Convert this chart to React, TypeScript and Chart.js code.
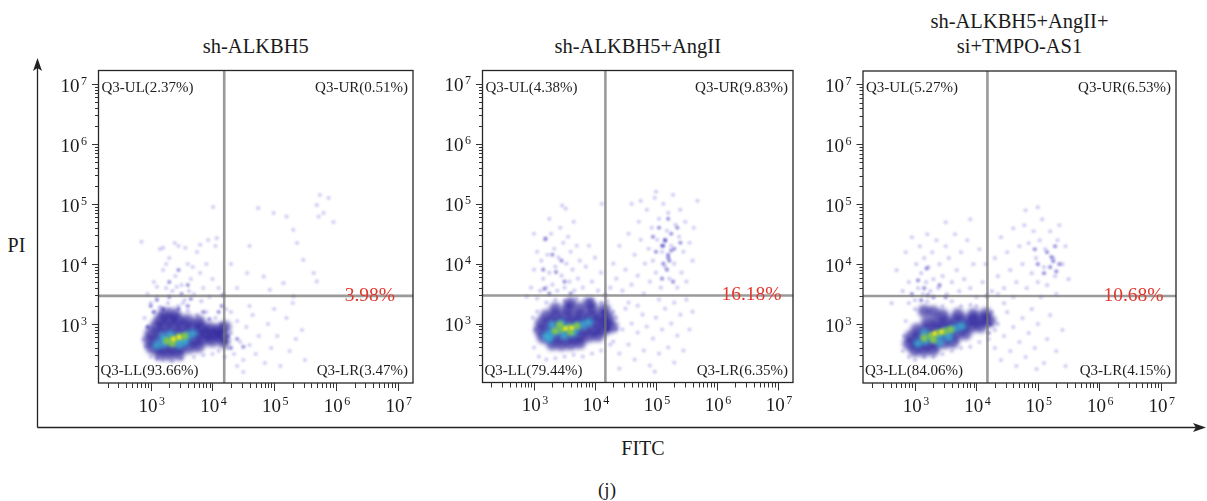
import React, { useEffect, useRef } from "react";
import { Chart, registerables } from "chart.js";

Chart.register(...registerables);

const SERIF = '"Liberation Serif", "Times New Roman", Times, serif';

// ---------- text ----------
const panelTitles = [["sh-ALKBH5"], ["sh-ALKBH5+AngII"], ["sh-ALKBH5+AngII+", "si+TMPO-AS1"]];
const labelUL = ["Q3-UL(2.37%)", "Q3-UL(4.38%)", "Q3-UL(5.27%)"];
const labelUR = ["Q3-UR(0.51%)", "Q3-UR(9.83%)", "Q3-UR(6.53%)"];
const labelLL = ["Q3-LL(93.66%)", "Q3-LL(79.44%)", "Q3-LL(84.06%)"];
const labelLR = ["Q3-LR(3.47%)", "Q3-LR(6.35%)", "Q3-LR(4.15%)"];
const apoptosisRate = ["3.98%", "16.18%", "10.68%"];
const xAxisTitle = "FITC";
const yAxisTitle = "PI";
const figureTag = "(j)";

// ---------- axes ----------
const tickExponents = [3, 4, 5, 6, 7];
const fitcRange = [142.6, 1.77e7];
const piRange = [104, 1.68e7];
const gateFITC = [15500, 14800, 15100];
const gatePI = [2950, 2950, 2950];

// ---------- events, as [log10 FITC, log10 PI] ----------
const p1Sparse = [
  [2.88, 2.75], [2.92, 2.62], [2.95, 2.95], [2.9, 3.1], [3.0, 2.45], [3.05, 3.2], [3.1, 2.42], [3.15, 3.28],
  [3.2, 2.4], [3.3, 3.25], [3.35, 2.38], [3.45, 3.3], [3.5, 2.42], [3.6, 3.22], [3.7, 2.45], [3.75, 3.15],
  [3.85, 2.48], [3.9, 3.2], [4.0, 2.5], [4.05, 3.1], [4.1, 2.55], [4.15, 3.0], [4.2, 2.45], [4.22, 3.25],
  [2.95, 3.5], [3.05, 3.7], [3.1, 3.45], [3.2, 3.9], [3.25, 3.6], [3.3, 4.1], [3.35, 3.55], [3.4, 3.8],
  [3.45, 4.3], [3.5, 3.65], [3.55, 3.4], [3.6, 4.0], [3.65, 3.75], [3.7, 3.5], [3.75, 4.2], [3.8, 3.85],
  [3.85, 3.6], [3.9, 4.0], [3.95, 3.45], [4.0, 3.75], [4.05, 4.3], [4.1, 3.6], [3.15, 4.25], [2.85, 4.37],
  [3.2, 4.27], [3.39, 4.35], [3.56, 4.27], [3.8, 4.32], [3.93, 4.4], [4.07, 4.43], [4.01, 4.95], [3.28, 3.35],
  [3.52, 3.35], [3.0, 3.35], [3.62, 3.55], [3.82, 3.38], [3.1, 3.62], [3.42, 3.62], [3.68, 3.95], [3.25, 4.0],
  [4.25, 2.6], [4.3, 2.85], [4.35, 2.5], [4.4, 3.05], [4.45, 2.7], [4.5, 2.4], [4.55, 2.95], [4.6, 2.65],
  [4.65, 3.15], [4.7, 2.5], [4.75, 2.8], [4.85, 2.35], [4.9, 3.0], [4.95, 2.6], [5.05, 2.8], [5.1, 2.3],
  [5.2, 3.1], [5.25, 2.55], [5.35, 2.75], [5.45, 2.9], [5.5, 2.4], [4.4, 2.3], [4.3, 3.2], [4.6, 3.3],
  [5.0, 3.25], [5.3, 3.35], [4.5, 2.2],
  [4.74, 4.93], [4.99, 4.85], [5.2, 4.79], [5.31, 4.57], [5.37, 4.35], [5.69, 4.98], [5.74, 5.15], [5.88, 5.1],
  [5.8, 4.85], [5.72, 4.79], [5.96, 4.7], [4.56, 3.85], [4.83, 3.79], [5.15, 3.68], [5.31, 3.46], [5.64, 3.85],
  [5.69, 3.71], [5.47, 4.07], [4.93, 3.57], [4.4, 3.6], [4.3, 4.0], [4.6, 4.3],
];
const p1Medium = [
  [3.0, 3.3], [3.1, 3.4], [3.2, 3.25], [3.3, 3.45], [3.45, 3.25], [3.5, 3.5], [3.6, 3.3], [3.65, 3.42],
  [3.3, 3.7], [3.45, 3.9], [3.6, 3.65], [4.17, 3.48], [4.15, 3.3], [4.2, 2.7], [4.25, 2.8],
  [4.3, 2.6], [4.4, 2.75], [4.5, 2.62], [2.95, 2.95], [3.05, 3.2], [3.85, 3.2], [3.95, 3.08], [4.1, 3.2],
];
const p1Blue = [
  [3.15, 2.5], [3.3, 2.49], [3.45, 2.5],
  [3.02, 2.6], [3.17, 2.6], [3.32, 2.6], [3.47, 2.6], [3.62, 2.61], [3.77, 2.63],
  [2.98, 2.72], [3.12, 2.72], [3.27, 2.72], [3.42, 2.72], [3.57, 2.72], [3.72, 2.73], [3.87, 2.74], [4.0, 2.72],
  [3.0, 2.84], [3.15, 2.84], [3.3, 2.84], [3.45, 2.84], [3.6, 2.84], [3.75, 2.84], [3.9, 2.84], [4.04, 2.82], [4.16, 2.8],
  [3.08, 2.96], [3.22, 2.96], [3.37, 2.96], [3.52, 2.96], [3.67, 2.95], [3.82, 2.94], [3.96, 2.93], [4.1, 2.9],
  [3.15, 3.07], [3.3, 3.07], [3.45, 3.07], [3.6, 3.06], [3.78, 3.04],
  [3.22, 3.17], [3.38, 3.16], [4.18, 2.7], [4.2, 2.95],
];
const p1Cyan = [
  [3.1, 2.65], [3.22, 2.68], [3.34, 2.72], [3.46, 2.76], [3.58, 2.8], [3.68, 2.84], [3.2, 2.78], [3.32, 2.82],
  [3.45, 2.66], [3.55, 2.7],
];
const p1Green = [[3.26, 2.72], [3.36, 2.75], [3.46, 2.78], [3.55, 2.8], [3.35, 2.68]];
const p1Yellow = [[3.37, 2.75], [3.46, 2.78]];

const p2Sparse = [
  [2.95, 3.6], [3.0, 3.9], [3.05, 4.2], [3.1, 3.55], [3.12, 4.05], [3.15, 3.75], [3.18, 4.4], [3.2, 3.6],
  [3.22, 4.15], [3.25, 3.85], [3.28, 4.5], [3.3, 3.65], [3.33, 4.25], [3.35, 3.95], [3.38, 3.55], [3.4, 4.1],
  [3.43, 4.6], [3.45, 3.8], [3.48, 4.35], [3.5, 3.6], [3.53, 4.0], [3.56, 4.45], [3.58, 3.7], [3.6, 4.2],
  [3.63, 3.9], [3.66, 3.55], [3.7, 4.3], [3.72, 3.75], [3.75, 4.05], [3.8, 3.6], [3.85, 3.95], [3.9, 4.3],
  [3.95, 3.7], [4.0, 4.1], [4.05, 3.55], [4.1, 3.85], [3.46, 4.97], [3.52, 4.92], [4.11, 5.0], [3.0, 4.5],
  [3.25, 4.75], [3.65, 4.7], [2.88, 3.45], [3.05, 3.42], [3.35, 3.4], [3.7, 3.42], [3.95, 3.4], [4.1, 3.35],
  [4.25, 3.6], [4.3, 4.0], [4.35, 3.75], [4.4, 4.3], [4.45, 3.55], [4.5, 3.9], [4.55, 4.5], [4.6, 3.65],
  [4.65, 4.15], [4.7, 3.8], [4.72, 4.7], [4.75, 4.4], [4.8, 3.5], [4.82, 4.0], [4.85, 4.9], [4.88, 4.25],
  [4.9, 3.7], [4.93, 4.6], [4.95, 4.05], [4.98, 5.1], [5.0, 3.85], [5.02, 4.4], [5.05, 4.75], [5.08, 3.6],
  [5.1, 4.2], [5.12, 5.0], [5.15, 3.95], [5.18, 4.55], [5.2, 4.85], [5.22, 3.75], [5.25, 4.3], [5.28, 5.15],
  [5.3, 4.0], [5.32, 4.65], [5.35, 3.6], [5.38, 4.45], [5.4, 4.9], [5.42, 3.85], [5.45, 4.2], [5.48, 4.7],
  [5.5, 3.7], [5.55, 4.35], [5.6, 4.05], [5.62, 4.6], [5.68, 5.05], [4.6, 5.0], [4.75, 5.05], [5.0, 5.2],
  [5.05, 3.4], [5.3, 3.35], [4.55, 3.35], [4.7, 3.3], [5.5, 3.4],
  [4.3, 2.7], [4.35, 3.1], [4.4, 2.5], [4.45, 2.9], [4.5, 3.25], [4.55, 2.65], [4.6, 3.0], [4.65, 2.4],
  [4.7, 2.85], [4.78, 3.15], [4.8, 2.55], [4.85, 2.95], [4.9, 2.3], [4.95, 2.75], [5.0, 3.1], [5.05, 2.5],
  [5.1, 2.9], [5.15, 3.25], [5.2, 2.6], [5.25, 3.0], [5.3, 2.35], [5.35, 2.8], [5.4, 3.15], [5.45, 2.55],
  [5.55, 2.9], [5.6, 3.2], [4.4, 2.25], [4.98, 2.2],
  [3.0, 2.6], [3.02, 2.9], [3.05, 3.2], [3.08, 2.45], [3.2, 2.4], [3.35, 2.42], [3.5, 2.45], [3.65, 2.48],
  [3.8, 2.45], [3.95, 2.5], [4.1, 2.55], [4.25, 2.65], [4.35, 2.9], [4.3, 3.2], [4.2, 3.38], [3.9, 3.38],
  [3.5, 3.38], [3.2, 3.35], [2.98, 3.1],
];
const p2Medium = [
  [3.19, 4.42], [3.36, 3.86], [3.17, 3.58], [3.3, 4.15], [3.5, 3.7], [3.25, 3.5], [3.45, 4.05], [3.6, 3.5],
  [3.15, 3.9], [4.17, 3.47], [4.15, 3.2], [4.2, 2.9],
  [5.1, 4.3], [5.15, 4.4], [5.2, 4.1], [5.12, 4.0], [5.25, 4.5], [5.3, 4.25], [5.05, 4.6], [5.2, 4.75],
  [5.35, 4.6], [5.0, 4.2], [5.18, 3.9], [5.28, 3.7], [5.1, 3.75], [5.4, 4.35], [4.95, 4.45],
  [5.12, 4.3], [5.2, 4.15], [5.22, 4.05], [5.15, 4.38], [5.25, 4.22],
];
const p2Blue = [
  [3.3, 2.66], [3.45, 2.65], [3.6, 2.66], [3.75, 2.68],
  [3.15, 2.77], [3.3, 2.77], [3.45, 2.77], [3.6, 2.77], [3.75, 2.78], [3.9, 2.79], [4.05, 2.8],
  [3.1, 2.89], [3.25, 2.89], [3.4, 2.89], [3.55, 2.89], [3.7, 2.9], [3.85, 2.9], [4.0, 2.9], [4.15, 2.9],
  [3.12, 3.01], [3.27, 3.01], [3.42, 3.01], [3.57, 3.01], [3.72, 3.02], [3.87, 3.02], [4.02, 3.02], [4.17, 3.0], [4.28, 2.95],
  [3.2, 3.13], [3.35, 3.13], [3.5, 3.13], [3.65, 3.13], [3.8, 3.13], [3.95, 3.13], [4.1, 3.12], [4.22, 3.1],
  [3.35, 3.25], [3.55, 3.25], [3.75, 3.25], [3.95, 3.25], [4.15, 3.24],
  [3.6, 3.34], [3.9, 3.34],
];
const p2Cyan = [
  [3.2, 2.8], [3.3, 2.85], [3.42, 2.88], [3.55, 2.92], [3.68, 2.95], [3.8, 2.98], [3.9, 3.02], [3.3, 2.97],
  [3.45, 3.0], [3.5, 2.8], [3.65, 2.85], [3.25, 2.75],
];
const p2Green = [[3.35, 2.88], [3.47, 2.91], [3.58, 2.93], [3.7, 2.96], [3.42, 2.98], [3.6, 2.86]];
const p2Yellow = [[3.52, 2.92], [3.62, 2.93]];

const p3Sparse = [
  [2.7, 3.9], [2.8, 3.55], [2.85, 4.2], [2.9, 3.7], [2.95, 4.45], [3.0, 3.4], [3.02, 4.0], [3.05, 3.6],
  [3.08, 4.3], [3.1, 3.85], [3.13, 3.5], [3.15, 4.1], [3.18, 3.7], [3.2, 4.5], [3.22, 3.95], [3.25, 3.55],
  [3.28, 4.2], [3.3, 3.75], [3.35, 4.4], [3.38, 3.6], [3.4, 4.0], [3.45, 3.8], [3.5, 4.3], [3.52, 3.5],
  [3.55, 4.1], [3.6, 3.7], [3.65, 4.5], [3.68, 3.9], [3.72, 3.55], [3.75, 4.2], [3.8, 3.75], [3.85, 4.4],
  [3.9, 3.6], [3.95, 4.0], [4.0, 3.45], [4.05, 4.25], [4.1, 3.7], [4.15, 4.0], [3.5, 4.7], [3.9, 4.75],
  [2.62, 3.35], [2.9, 3.35], [3.2, 3.38], [3.6, 3.38], [3.9, 3.32],
  [4.25, 3.55], [4.3, 4.1], [4.35, 3.8], [4.4, 4.45], [4.45, 3.6], [4.5, 4.2], [4.55, 3.9], [4.6, 4.6],
  [4.65, 3.7], [4.7, 4.3], [4.75, 4.0], [4.78, 4.65], [4.82, 3.6], [4.85, 4.35], [4.9, 3.85], [4.93, 4.55],
  [4.97, 4.1], [5.0, 3.7], [5.03, 4.4], [5.07, 4.75], [5.1, 3.95], [5.12, 4.25], [5.15, 3.65], [5.2, 4.55],
  [5.25, 4.1], [5.28, 3.8], [5.32, 4.4], [5.35, 4.65], [5.4, 4.0], [5.45, 4.3], [5.5, 3.75], [4.8, 4.9],
  [5.0, 4.95], [4.35, 3.5], [4.6, 3.45], [5.05, 3.45], [5.3, 3.5],
  [4.3, 2.6], [4.35, 3.0], [4.4, 2.4], [4.45, 2.8], [4.5, 3.2], [4.55, 2.55], [4.6, 2.95], [4.65, 2.3],
  [4.7, 2.7], [4.75, 3.1], [4.8, 2.45], [4.85, 2.85], [4.9, 3.25], [4.95, 2.6], [5.0, 3.0], [5.1, 2.35],
  [5.15, 2.75], [5.2, 3.15], [5.3, 2.55], [5.4, 2.9], [5.45, 2.3], [4.45, 3.35], [4.98, 2.25],
  [2.8, 2.55], [2.82, 2.8], [2.85, 3.05], [2.9, 2.45], [3.0, 2.4], [3.15, 2.45], [3.3, 2.45], [3.45, 2.5],
  [3.6, 2.55], [3.75, 2.6], [3.9, 2.62], [4.05, 2.7], [4.2, 2.75], [4.3, 2.9], [4.25, 3.2], [4.0, 3.3],
  [3.75, 3.3], [3.45, 3.3], [3.0, 3.25],
];
const p3Medium = [
  [3.05, 3.73], [3.19, 3.93], [3.21, 3.48], [2.95, 3.5], [3.1, 3.4], [3.3, 3.45], [3.5, 3.45], [3.15, 3.6],
  [3.4, 3.65], [4.17, 3.47], [4.18, 3.15], [4.22, 3.0], [4.2, 2.85],
  [5.2, 3.95], [5.25, 4.05], [5.3, 3.88], [5.22, 4.12], [5.35, 4.0], [5.15, 4.2], [5.28, 4.3], [5.1, 3.85],
  [5.0, 4.0], [4.95, 4.25],
];
const p3Blue = [
  [3.0, 2.56], [3.15, 2.56], [3.3, 2.57],
  [2.9, 2.67], [3.04, 2.67], [3.18, 2.67], [3.33, 2.68], [3.48, 2.69], [3.62, 2.7],
  [2.93, 2.79], [3.07, 2.79], [3.22, 2.79], [3.37, 2.8], [3.52, 2.81], [3.67, 2.82], [3.82, 2.84],
  [3.03, 2.91], [3.18, 2.91], [3.33, 2.92], [3.48, 2.93], [3.63, 2.94], [3.78, 2.95], [3.93, 2.96], [4.07, 2.96],
  [3.2, 3.03], [3.35, 3.03], [3.5, 3.04], [3.65, 3.05], [3.8, 3.06], [3.95, 3.07], [4.1, 3.07], [4.22, 3.05],
  [3.45, 3.15], [3.7, 3.16], [3.95, 3.16], [4.15, 3.17],
  [3.15, 3.22], [3.3, 3.2],
];
const p3Cyan = [
  [3.05, 2.68], [3.17, 2.73], [3.29, 2.78], [3.41, 2.83], [3.53, 2.88], [3.65, 2.93], [3.76, 2.97], [3.15, 2.85],
  [3.4, 2.7], [3.55, 2.78],
];
const p3Green = [[3.15, 2.77], [3.26, 2.81], [3.37, 2.85], [3.48, 2.88], [3.58, 2.91], [3.3, 2.74]];
const p3Yellow = [[3.32, 2.84], [3.43, 2.87]];

const sparseSets = [p1Sparse, p2Sparse, p3Sparse];
const mediumSets = [p1Medium, p2Medium, p3Medium];
const blueSets = [p1Blue, p2Blue, p3Blue];
const cyanSets = [p1Cyan, p2Cyan, p3Cyan];
const greenSets = [p1Green, p2Green, p3Green];
const yellowSets = [p1Yellow, p2Yellow, p3Yellow];

// ---------- layout (pixels) ----------
const plotBoxes = [
  [98.5, 70.5, 413, 383],
  [482.5, 70.5, 793, 382.5],
  [863, 71, 1176, 383],
];
const rateRightInset = [18, 11.5, 12.5];

const toPoints = (arr: number[][]) => arr.map(([lx, ly]) => ({ x: Math.pow(10, lx), y: Math.pow(10, ly) }));

const blurPlugin = {
  id: "densityBlur",
  beforeDatasetDraw(chart: any, args: any) {
    const ds = chart.data.datasets[args.index];
    chart.ctx.save();
    if (ds.blur) chart.ctx.filter = `blur(${ds.blur}px)`;
  },
  afterDatasetDraw(chart: any) {
    chart.ctx.restore();
  },
};

function drawPower(ctx: CanvasRenderingContext2D, x: number, y: number, exp: number, align: "center" | "right") {
  ctx.font = `19px ${SERIF}`;
  const w1 = ctx.measureText("10").width;
  ctx.font = `12px ${SERIF}`;
  const w2 = ctx.measureText(String(exp)).width;
  const gap = 1.5;
  const total = w1 + gap + w2;
  const left = align === "center" ? x - total / 2 : x - total;
  ctx.textAlign = "left";
  ctx.textBaseline = "alphabetic";
  ctx.font = `19px ${SERIF}`;
  ctx.fillText("10", left, y);
  ctx.font = `12px ${SERIF}`;
  ctx.fillText(String(exp), left + w1 + gap, y - 7);
}

function framePlugin(idx: number) {
  return {
    id: "flowFrame" + idx,
    afterDraw(chart: any) {
      const { ctx, chartArea: a, scales } = chart;
      const xs = scales.x;
      const ys = scales.y;
      ctx.save();
      ctx.strokeStyle = "#262626";
      ctx.lineWidth = 1.3;
      ctx.strokeRect(a.left, a.top, a.right - a.left, a.bottom - a.top);
      ctx.lineWidth = 1;
      ctx.strokeStyle = "#333";
      ctx.beginPath();
      for (let e = 2; e <= 7; e++) {
        for (let k = 1; k <= 9; k++) {
          const v = k * Math.pow(10, e);
          if (v >= fitcRange[0] && v <= fitcRange[1]) {
            const px = Math.round(xs.getPixelForValue(v)) + 0.5;
            const len = k === 1 ? 8 : 5;
            ctx.moveTo(px, a.bottom);
            ctx.lineTo(px, a.bottom + len);
          }
          if (v >= piRange[0] && v <= piRange[1]) {
            const py = Math.round(ys.getPixelForValue(v)) + 0.5;
            const len = k === 1 ? 6.5 : 3.5;
            ctx.moveTo(a.left, py);
            ctx.lineTo(a.left - len, py);
          }
        }
      }
      ctx.stroke();
      ctx.fillStyle = "#1a1a1a";
      tickExponents.forEach((e) => {
        const v = Math.pow(10, e);
        drawPower(ctx, xs.getPixelForValue(v) + 1, a.bottom + 28.7, e, "center");
        drawPower(ctx, a.left - 11.5, ys.getPixelForValue(v) + 7.5, e, "right");
      });
      ctx.font = `15px ${SERIF}`;
      ctx.fillStyle = "#1e1e1e";
      ctx.textBaseline = "alphabetic";
      ctx.textAlign = "left";
      ctx.fillText(labelUL[idx], a.left + 3, a.top + 21);
      ctx.fillText(labelLL[idx], a.left + 2, a.bottom - 8);
      ctx.textAlign = "right";
      ctx.fillText(labelUR[idx], a.right - 5, a.top + 21);
      ctx.fillText(labelLR[idx], a.right - 5, a.bottom - 8);
      ctx.font = `19.5px ${SERIF}`;
      ctx.fillStyle = "#e2372d";
      ctx.fillText(apoptosisRate[idx], a.right - rateRightInset[idx], ys.getPixelForValue(gatePI[idx]) + 5);
      ctx.restore();
    },
  };
}

function FlowPanel({ idx }: { idx: number }) {
  const ref = useRef<HTMLCanvasElement>(null);
  const [l, t, r, b] = plotBoxes[idx];
  const cLeft = Math.floor(l - 62);
  const cTop = 56;
  const cRight = Math.ceil(r + 12);
  const cBottom = 424;
  const w = cRight - cLeft;
  const h = cBottom - cTop;

  useEffect(() => {
    const gateColor = "rgba(115,115,115,0.72)";
    const chart = new Chart(ref.current as HTMLCanvasElement, {
      type: "scatter",
      data: {
        datasets: [
          {
            data: [{ x: gateFITC[idx], y: piRange[0] }, { x: gateFITC[idx], y: piRange[1] }],
            showLine: true, borderColor: gateColor, borderWidth: 2.6, pointRadius: 0,
          },
          {
            data: [{ x: fitcRange[0], y: gatePI[idx] }, { x: fitcRange[1], y: gatePI[idx] }],
            showLine: true, borderColor: gateColor, borderWidth: 2.6, pointRadius: 0,
          },
          { data: toPoints(yellowSets[idx]), pointRadius: 2.4, borderWidth: 0, backgroundColor: "rgba(236,226,40,0.95)", blur: 1.3 } as any,
          { data: toPoints(greenSets[idx]), pointRadius: 3.6, borderWidth: 0, backgroundColor: "rgba(140,205,60,0.85)", blur: 1.8 } as any,
          { data: toPoints(cyanSets[idx]), pointRadius: 4.4, borderWidth: 0, backgroundColor: "rgba(55,185,215,0.78)", blur: 2.0 } as any,
          { data: toPoints(blueSets[idx]), pointRadius: 6.3, borderWidth: 0, backgroundColor: "rgba(32,22,150,0.64)", blur: 2.1 } as any,
          { data: toPoints(mediumSets[idx]), pointRadius: 2.1, borderWidth: 0, backgroundColor: "rgba(60,50,190,0.5)", blur: 0.9 } as any,
          { data: toPoints(sparseSets[idx]), pointRadius: 2.1, borderWidth: 0, backgroundColor: "rgba(100,90,215,0.3)", blur: 1.0 } as any,
        ],
      },
      options: {
        responsive: false,
        animation: false,
        events: [],
        layout: { padding: { left: l - cLeft, top: t - cTop, right: cRight - r, bottom: cBottom - b } },
        plugins: { legend: { display: false }, tooltip: { enabled: false }, title: { display: false } },
        scales: {
          x: { type: "logarithmic", display: false, min: fitcRange[0], max: fitcRange[1] },
          y: { type: "logarithmic", display: false, min: piRange[0], max: piRange[1] },
        },
      },
      plugins: [blurPlugin, framePlugin(idx)],
    } as any);
    return () => chart.destroy();
  }, [idx]);

  return (
    <canvas
      ref={ref}
      width={w}
      height={h}
      style={{ position: "absolute", left: cLeft, top: cTop, width: w, height: h }}
    />
  );
}

export default function App() {
  const titleCenters = plotBoxes.map(([l, , r]) => (l + r) / 2);
  return (
    <div style={{ position: "absolute", left: 0, top: 0, width: 1207, height: 501, background: "#fff", overflow: "hidden" }}>
      <svg width={1207} height={501} style={{ position: "absolute", left: 0, top: 0 }}>
        <line x1={37.5} y1={427.5} x2={37.5} y2={66} stroke="#222" strokeWidth={1.3} />
        <path d="M37.5 58 L42 71 L37.5 68 L33 71 Z" fill="#222" />
        <line x1={37.5} y1={427.5} x2={1197} y2={427.5} stroke="#222" strokeWidth={1.3} />
        <path d="M1206 427.5 L1193 423 L1196 427.5 L1193 432 Z" fill="#222" />
        <g fontFamily={SERIF} fill="#1a1a1a">
          <text x={16.5} y={251.5} fontSize={20} textAnchor="middle">{yAxisTitle}</text>
          <text x={643} y={455} fontSize={20} textAnchor="middle">{xAxisTitle}</text>
          <text x={607} y={496} fontSize={19} textAnchor="middle">{figureTag}</text>
          {panelTitles.map((lines, i) =>
            lines.map((s, j) => (
              <text key={i + "-" + j} x={titleCenters[i]} y={52.5 - (lines.length - 1 - j) * 25} fontSize={20.5} textAnchor="middle">
                {s}
              </text>
            ))
          )}
        </g>
      </svg>
      {[0, 1, 2].map((i) => (
        <FlowPanel key={i} idx={i} />
      ))}
    </div>
  );
}
